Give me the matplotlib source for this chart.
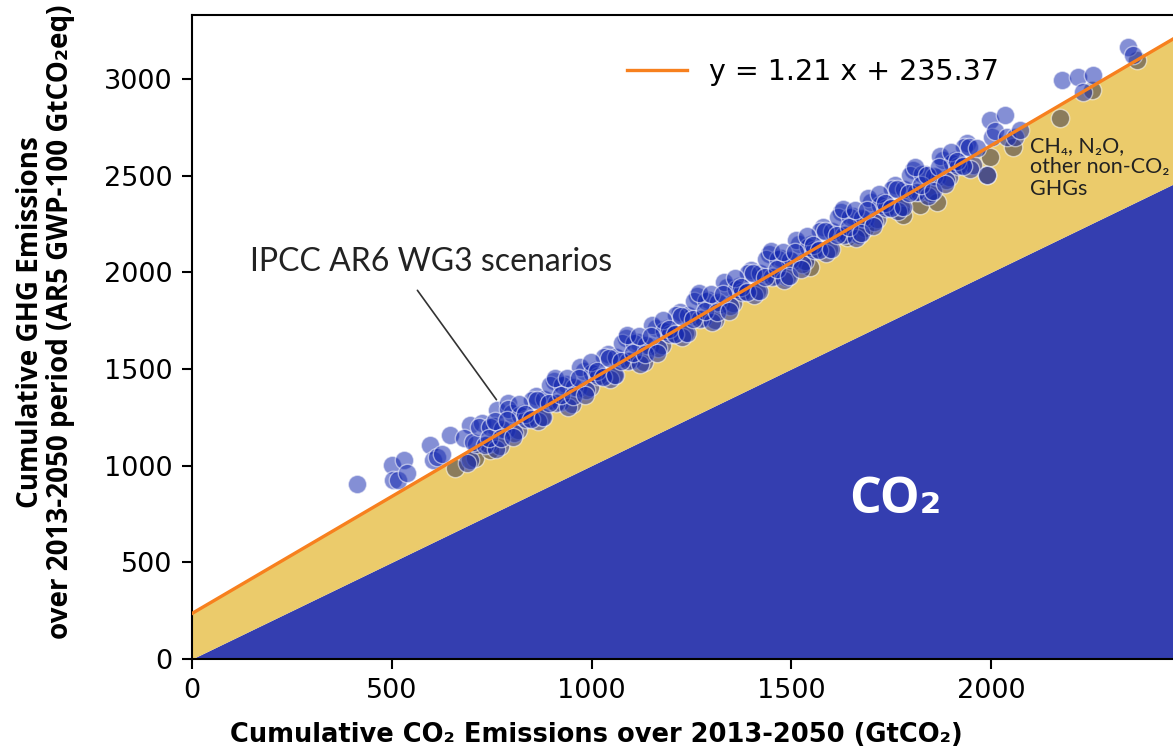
import numpy as np
import matplotlib.pyplot as plt

# Fit of cumulative GHG vs cumulative CO2 (from the chart legend)
fit_slope = 1.21
fit_intercept = 235.37

# Scenario points, blue = main set
scen_x = [413, 500, 503, 515, 530, 538, 596, 603, 612, 625, 646, 696, 763, 791,
          680, 695, 710, 725, 740, 755, 770, 785, 800, 815, 830, 845, 860, 875,
          890, 905, 920, 935, 950, 965, 980, 995, 1010, 1025, 1040, 1055, 1070,
          1085, 1100, 1115, 1130, 1145, 1160, 1175, 1190, 1205, 1220, 1235, 1250,
          1265, 1280, 1295, 1310, 1325, 1340, 1355, 1370, 1385, 1400, 1415, 1430,
          1445, 1460, 1475, 1490, 1505, 1520, 1535, 1550, 1565, 1580, 1595, 1610,
          1625, 1640, 1655, 1670, 1685, 1700, 1715, 1730, 1745, 1760, 1775, 1790,
          1805, 1820, 1835, 1850, 1865, 1880, 1895, 1910, 1925, 1940, 1955,
          687, 702, 717, 732, 747, 762, 777, 792, 807, 822, 837, 852, 867, 882,
          897, 912, 927, 942, 957, 972, 987, 1002, 1017, 1032, 1047, 1062, 1077,
          1092, 1107, 1122, 1137, 1152, 1167, 1182, 1197, 1212, 1227, 1242, 1257,
          1272, 1287, 1302, 1317, 1332, 1347, 1362, 1377, 1392, 1407, 1422, 1437,
          1452, 1467, 1482, 1497, 1512, 1527, 1542, 1557, 1572, 1587, 1602, 1617,
          1632, 1647, 1662, 1677, 1692, 1707, 1722, 1737, 1752, 1767, 1782, 1797,
          1812, 1827, 1842, 1857, 1872, 1887, 1902, 1917, 1932, 1947,
          744, 759, 774, 789, 804, 819, 834, 849, 864, 879, 894, 909, 924, 939,
          954, 969, 984, 999, 1014, 1029, 1044, 1059, 1074, 1089, 1104, 1119,
          1134, 1149, 1164, 1179, 1194, 1209, 1224, 1239, 1254, 1269, 1284, 1299,
          1314, 1329, 1344, 1359, 1374, 1389, 1404, 1419, 1434, 1449, 1464, 1479,
          1494, 1509, 1524, 1539, 1554, 1569, 1584, 1599, 1614, 1629, 1644, 1659,
          1674, 1689, 1704, 1719, 1734, 1749, 1764, 1779, 1794, 1809, 1824, 1839,
          1854, 1869, 1884, 1899, 1914, 1929, 1944,
          1965, 1989, 1997, 2002, 2010, 2035, 2040, 2060, 2072, 2177, 2217, 2230,
          2255, 2342, 2355]
scen_y = [905, 1003, 925, 925, 1029, 962, 1107, 1029, 1045, 1060, 1158, 1210, 1287, 1324,
          1143, 1031, 1114, 1222, 1110, 1204, 1102, 1185, 1273, 1186, 1274, 1247, 1361, 1249,
          1332, 1440, 1328, 1421, 1320, 1403, 1491, 1404, 1492, 1465, 1578, 1467, 1550,
          1658, 1546, 1639, 1537, 1620, 1709, 1622, 1710, 1683, 1796, 1684, 1768,
          1876, 1764, 1857, 1755, 1838, 1926, 1840, 1928, 1901, 2014, 1902, 1985,
          2093, 1982, 2075, 1973, 2056, 2144, 2057, 2146, 2119, 2232, 2120, 2203,
          2311, 2199, 2293, 2191, 2274, 2362, 2275, 2363, 2336, 2450, 2338, 2421,
          2529, 2417, 2510, 2409, 2492, 2580, 2493, 2581, 2554, 2667, 2556,
          1011, 1124, 1198, 1106, 1199, 1087, 1190, 1293, 1171, 1260, 1243, 1341, 1229, 1342,
          1415, 1324, 1417, 1305, 1408, 1511, 1389, 1477, 1461, 1559, 1447, 1560, 1633,
          1541, 1634, 1523, 1626, 1729, 1607, 1695, 1678, 1777, 1665, 1778, 1851,
          1759, 1852, 1740, 1844, 1947, 1825, 1913, 1896, 1994, 1882, 1996, 2069,
          1977, 2070, 1958, 2061, 2165, 2043, 2131, 2114, 2212, 2100, 2213, 2287,
          2195, 2288, 2176, 2279, 2382, 2260, 2349, 2332, 2430, 2318, 2431, 2504,
          2413, 2506, 2394, 2497, 2600, 2478, 2566, 2550, 2648, 2536,
          1145, 1233, 1142, 1235, 1148, 1316, 1269, 1242, 1340, 1249, 1322, 1455, 1363, 1451,
          1359, 1452, 1366, 1534, 1487, 1460, 1558, 1466, 1540, 1673, 1581, 1669,
          1577, 1670, 1583, 1752, 1705, 1678, 1776, 1684, 1757, 1890, 1799, 1887,
          1795, 1888, 1801, 1969, 1923, 1896, 1994, 1902, 1975, 2108, 2016, 2105,
          1983, 2106, 2019, 2187, 2140, 2114, 2212, 2120, 2193, 2326, 2234, 2322,
          2201, 2324, 2237, 2405, 2358, 2331, 2430, 2338, 2411, 2544, 2452, 2505,
          2418, 2542, 2455, 2623, 2576, 2549, 2647,
          2640, 2503, 2787, 2699, 2730, 2813, 2699, 2700, 2735, 2994, 3009, 2932,
          3020, 3164, 3123]

# grey points
grey_x = [658, 708, 746, 1547, 1639, 1684, 1779, 1822, 1864, 1989, 1997, 2055, 2172, 2252, 2365]
grey_y = [988, 1039, 1081, 2027, 2182, 2228, 2296, 2347, 2363, 2503, 2596, 2647, 2797, 2942, 3097]

xmax = 2455
ymax = 3330

fig = plt.figure(figsize=(11.73, 7.53), dpi=100)
ax = fig.add_axes([192/1173, 94/753, 1 - 192/1173, 644/753])

# areas: CO2 (y = x) and non-CO2 up to the fit line
xs = np.array([0, xmax])
ax.fill_between(xs, 0, xs, color='#343eb0', lw=0, zorder=1)
ax.fill_between(xs, xs, fit_slope*xs + fit_intercept, color='#ebcb6b', lw=0, zorder=1)

ax.scatter(grey_x, grey_y, s=175, color='#3c3c50', alpha=0.55, edgecolors='white',
           linewidths=1, zorder=2)
ax.scatter(scen_x, scen_y, s=175, color='#1428b0', alpha=0.52, edgecolors='white',
           linewidths=1, zorder=3)

ax.plot(xs, fit_slope*xs + fit_intercept, color='#f7801e', lw=2.4, zorder=4,
        label='y = %.2f x + %.2f' % (fit_slope, fit_intercept))

ax.set_xlim(0, xmax)
ax.set_ylim(0, ymax)
ax.set_xticks([0, 500, 1000, 1500, 2000])
ax.set_yticks([0, 500, 1000, 1500, 2000, 2500, 3000])
ax.tick_params(labelsize=19.5, length=7, width=1.5, pad=7)
for s in ['left', 'bottom', 'top']:
    ax.spines[s].set_linewidth(1.5)
ax.spines['right'].set_visible(False)

ax.legend(loc='upper center', bbox_to_anchor=(0.633, 0.973), frameon=False,
          fontsize=20.5, handlelength=2.1)

myriad = ['Lato', 'DejaVu Sans']
ax.text(145, 2053, 'IPCC AR6 WG3 scenarios', fontsize=23, family=myriad,
        ha='left', va='center', color='#222222')
ax.annotate('', xy=(766, 1329), xytext=(560, 1918),
            arrowprops=dict(arrowstyle='-', color='#333333', lw=1.2))
ax.text(1759, 822, 'CO₂', fontsize=36, fontweight='bold', family=['Open Sans', 'DejaVu Sans'],
        color='white', ha='center', va='center', zorder=5)
ax.text(2097, 2705, 'CH₄, N₂O,\nother non-CO₂\nGHGs', fontsize=15.5, family=myriad,
        ha='left', va='top', color='#222222', linespacing=1.1, zorder=5)

ax.set_ylabel('Cumulative GHG Emissions\nover 2013-2050 period (AR5 GWP-100 GtCO₂eq)',
              fontsize=20, fontweight='bold', family=['Open Sans', 'DejaVu Sans'],
              linespacing=1.05)
ax.yaxis.set_label_coords(-0.119, 0.523)
ax.set_xlabel('Cumulative CO₂ Emissions over 2013-2050 (GtCO₂)', fontsize=18.5,
              fontweight='bold', family=['DejaVu Sans'])
ax.xaxis.set_label_coords(0.412, -0.098)

plt.savefig('out.png', dpi=100)
